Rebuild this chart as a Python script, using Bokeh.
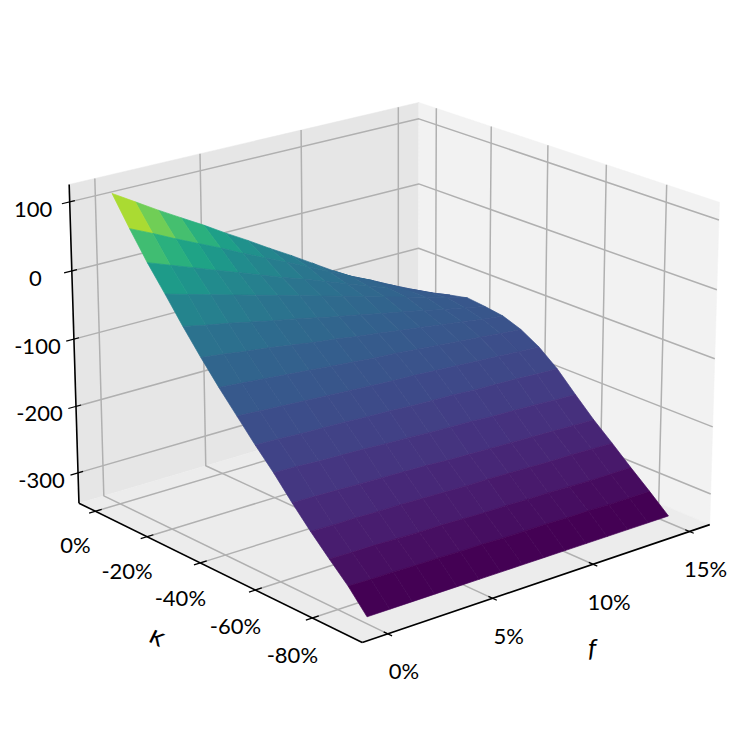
import numpy as np
from bokeh.plotting import figure
from bokeh.embed import file_html
from bokeh.resources import INLINE
from bokeh.core.properties import value
from bokeh.palettes import Viridis256

F_TICKS = [0.0, 0.05, 0.10, 0.15]
F_LABELS = ["0%", "5%", "10%", "15%"]
K_TICKS = [0.0, -0.2, -0.4, -0.6, -0.8]
K_LABELS = ["0%", "-20%", "-40%", "-60%", "-80%"]
Z_TICKS = [100, 0, -100, -200, -300]
Z_LABELS = ["100", "0", "-100", "-200", "-300"]
F_GRID = [0.0, 0.0107, 0.0214, 0.0321, 0.0429, 0.0536, 0.0643, 0.075, 0.0857, 0.0964, 0.1071, 0.1179, 0.1286, 0.1393, 0.15]
K_GRID = [0.0, -0.0643, -0.1286, -0.1929, -0.2571, -0.3214, -0.3857, -0.45, -0.5143, -0.5786, -0.6429, -0.7071, -0.7714, -0.8357, -0.9]
Z_TABLE = [
 [113,93,73,54,35,15,-4,-24,-43,-63,-83,-102,-120,-137,-150],
 [72,57,41,26,11,-5,-20,-35,-50,-66,-81,-96,-112,-127,-141],
 [33,21,9,-3,-15,-27,-39,-50,-62,-74,-86,-98,-110,-122,-134],
 [-2,-11,-20,-29,-38,-47,-56,-65,-74,-83,-92,-101,-110,-119,-128],
 [-38,-45,-51,-58,-65,-71,-78,-85,-91,-98,-104,-111,-118,-124,-131],
 [-72,-76,-81,-85,-90,-95,-99,-104,-108,-113,-117,-122,-126,-131,-135],
 [-104,-107,-110,-113,-116,-119,-122,-125,-127,-130,-133,-136,-139,-142,-145],
 [-134,-136,-138,-140,-142,-144,-146,-148,-149,-151,-153,-155,-157,-159,-161],
 [-164,-165,-167,-168,-169,-171,-172,-174,-175,-176,-178,-179,-180,-182,-183],
 [-192,-193,-195,-196,-197,-199,-200,-202,-203,-204,-206,-207,-208,-210,-211],
 [-223,-224,-225,-226,-227,-228,-229,-231,-232,-233,-234,-235,-236,-237,-238],
 [-252,-253,-253,-254,-254,-255,-256,-257,-257,-258,-259,-260,-260,-261,-262],
 [-279,-280,-280,-281,-282,-282,-283,-284,-284,-285,-285,-286,-287,-287,-287],
 [-305,-306,-306,-307,-307,-308,-308,-309,-309,-309,-310,-310,-311,-311,-311],
 [-336,-336,-336,-336,-336,-336,-336,-336,-336,-336,-336,-336,-336,-336,-336],
]
COLOR_Z = [-322, -237, -120, -55, -8, 10, 28, 47, 65, 82.5]
COLOR_FRAC = [0.0, 0.12, 0.28, 0.38, 0.49, 0.55, 0.62, 0.70, 0.78, 0.875]

fmin, fmax = -0.0119, 0.1608
kmin, kmax = -0.970, 0.065
zmin, zmax = -346.0, 125.0
anch = [
 ((fmin,kmax,zmax),(69,184)),((fmax,kmax,zmax),(418,102)),((fmax,kmin,zmax),(718,201)),
 ((fmin,kmax,zmin),(79,503)),((fmax,kmax,zmin),(418,405)),((fmax,kmin,zmin),(709,523)),((fmin,kmin,zmin),(362,643)),
 ((0,kmin,zmin),(388,634)),((.05,kmin,zmin),(492,598)),((.10,kmin,zmin),(593,563)),((.15,kmin,zmin),(689,530)),
 ((fmin,0,zmin),(95,511)),((fmin,-.2,zmin),(146,536)),((fmin,-.4,zmin),(199,562)),((fmin,-.6,zmin),(254,589.6)),((fmin,-.8,zmin),(311,617.8)),
 ((fmin,kmax,100),(70,202)),((fmin,kmax,0),(72,270)),((fmin,kmax,-100),(74,338)),((fmin,kmax,-200),(76,405)),((fmin,kmax,-300),(78,472)),
 ((fmax,kmax,100),(418,118)),((fmax,kmax,0),(418,183)),((fmax,kmax,-100),(418,247)),
 ((0,kmax,zmax),(93,179)),((.05,kmax,zmax),(199,153)),((.10,kmax,zmax),(300,128)),((.15,kmax,zmax),(397,105)),
 ((fmax,0,zmax),(436,109)),((fmax,-.2,zmax),(491,127)),((fmax,-.4,zmax),(548,146)),((fmax,-.6,zmax),(607,165)),((fmax,-.8,zmax),(667,185)),
]
def nrm(f, k, z):
    return np.array([(f-fmin)/(fmax-fmin), (k-kmin)/(kmax-kmin), (z-zmin)/(zmax-zmin), 1.0])
A = []
for X, (x, y) in anch:
    v = nrm(*X)
    A.append(np.r_[v, np.zeros(4), -x*v]); A.append(np.r_[np.zeros(4), v, -y*v])
P = np.linalg.svd(np.array(A))[2][-1].reshape(3, 4)
def proj(f, k, z):
    r = P @ nrm(f, k, z)
    return r[0]/r[2], r[1]/r[2]
def pl(pts):
    q = [proj(*t) for t in pts]
    return [a for a, _ in q], [b for _, b in q]

p = figure(width=732, height=715, x_range=(0, 732), y_range=(715, 0), output_backend="svg",
           toolbar_location=None, min_border=0, outline_line_color=None)
p.axis.visible = False
p.grid.visible = False

panes = [
 ([(fmin,kmax,zmin),(fmax,kmax,zmin),(fmax,kmax,zmax),(fmin,kmax,zmax)], "#e6e6e6"),
 ([(fmax,kmax,zmin),(fmax,kmin,zmin),(fmax,kmin,zmax),(fmax,kmax,zmax)], "#f2f2f2"),
 ([(fmin,kmin,zmin),(fmax,kmin,zmin),(fmax,kmax,zmin),(fmin,kmax,zmin)], "#ececec"),
]
for pts, c in panes:
    xs, ys = pl(pts)
    p.patch(xs, ys, fill_color=c, line_color=c, line_width=0.5)

GRID = "#b0b0b0"
for f in F_TICKS:
    xs, ys = pl([(f,kmin,zmin),(f,kmax,zmin),(f,kmax,zmax)])
    p.line(xs, ys, line_color=GRID, line_width=1.5)
for k in K_TICKS:
    xs, ys = pl([(fmin,k,zmin),(fmax,k,zmin),(fmax,k,zmax)])
    p.line(xs, ys, line_color=GRID, line_width=1.5)
for z in Z_TICKS:
    xs, ys = pl([(fmin,kmax,z),(fmax,kmax,z),(fmax,kmin,z)])
    p.line(xs, ys, line_color=GRID, line_width=1.5)

for pts in ([(fmin,kmax,zmin),(fmin,kmax,zmax)], [(fmin,kmax,zmin),(fmin,kmin,zmin)], [(fmin,kmin,zmin),(fmax,kmin,zmin)]):
    xs, ys = pl(pts)
    p.line(xs, ys, line_color="black", line_width=1.6)

for f in F_TICKS:
    xs, ys = pl([(f,kmin-0.014,zmin),(f,kmin+0.014,zmin)])
    p.line(xs, ys, line_color="black", line_width=1.2)
for k in K_TICKS:
    xs, ys = pl([(fmin-0.003,k,zmin),(fmin+0.003,k,zmin)])
    p.line(xs, ys, line_color="black", line_width=1.2)
for z in Z_TICKS:
    xs, ys = pl([(fmin-0.0036,kmax,z),(fmin+0.0024,kmax,z)])
    p.line(xs, ys, line_color="black", line_width=1.2)

Z = np.array(Z_TABLE, dtype=float)
fx, fy, fc = [], [], []
for i in range(len(K_GRID)-1):
    for j in range(len(F_GRID)-1, 0, -1):
        c = [(F_GRID[j-1],K_GRID[i],Z[i,j-1]),(F_GRID[j],K_GRID[i],Z[i,j]),(F_GRID[j],K_GRID[i+1],Z[i+1,j]),(F_GRID[j-1],K_GRID[i+1],Z[i+1,j-1])]
        xs, ys = pl(c)
        avg = np.mean([t[2] for t in c])
        frac = np.interp(avg, COLOR_Z, COLOR_FRAC)
        fx.append(xs); fy.append(ys); fc.append(Viridis256[int(round(frac*255))])
p.patches(fx, fy, fill_color=fc, line_color=fc, line_width=0.7)

FONT = value("Lato")
def labels(x, y, t, dx, dy, size="22px"):
    p.text(x, y, text=t, x_offset=dx, y_offset=dy, text_align="center", text_baseline="middle",
           text_font=FONT, text_font_size=size, text_color="black")
for f, t in zip(F_TICKS, F_LABELS):
    x, y = proj(f, kmin, zmin); labels([x], [y], [t], 16, 37)
for i, (k, t) in enumerate(zip(K_TICKS, K_LABELS)):
    x, y = proj(fmin, k, zmin); labels([x], [y], [t], -20, 33 + 0.75*i)
for z, t in zip(Z_TICKS, Z_LABELS):
    x, y = proj(fmin, kmax, z); labels([x], [y], [t], -36.5, 7.5)
x, y = proj(0.10, kmin, zmin)
p.text([x], [y], text=["f"], x_offset=-1, y_offset=83, text_align="center", text_baseline="middle",
       text_font=FONT, text_font_style="italic", text_font_size="26px", text_color="black")
x, y = proj(fmin, -0.4, zmin)
p.text([x], [y], text=["κ"], x_offset=-42, y_offset=72, angle=-0.45, text_align="center", text_baseline="middle",
       text_font=FONT, text_font_size="27px", text_color="black")

open("out.html", "w").write(file_html(p, INLINE))
